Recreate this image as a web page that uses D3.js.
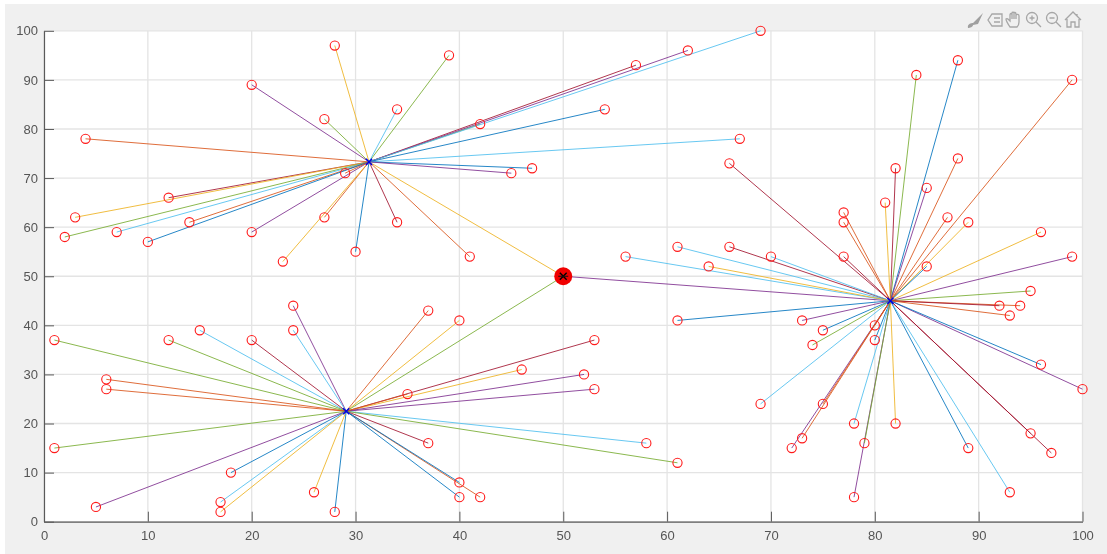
<!DOCTYPE html>
<html><head><meta charset="utf-8">
<script src="https://cdn.jsdelivr.net/npm/d3@7/dist/d3.min.js"></script>
<style>
html,body{margin:0;padding:0;background:#fff;overflow:hidden}
svg{display:block;filter:blur(0.45px)}
text{font-family:"Liberation Sans",Arial,sans-serif}
</style></head><body>
<svg id="c" width="1107" height="554"></svg>
<script>
const xTicks=[0,10,20,30,40,50,60,70,80,90,100];
const yTicks=[0,10,20,30,40,50,60,70,80,90,100];
const centerNames=["A","B","C"];
const centerX=[31.3,29.1,81.5];
const centerY=[73.3,22.5,45];
const colorNames=["blue","orange","yellow","purple","green","cyan","crimson"];
const colorValues=["#0072BD","#D95319","#EDB120","#7E2F8E","#77AC30","#4DBEEE","#A2142F"];
const clusterAPoints=[[28,97,"yellow"],[39,95,"green"],[20,89,"purple"],[34,84,"cyan"],[27,82,"green"],[42,81,"green"],[57,93,"crimson"],[62,96,"purple"],[69,100,"cyan"],[54,84,"blue"],[67,78,"cyan"],[47,72,"blue"],[45,71,"purple"],[4,78,"orange"],[12,66,"crimson"],[3,62,"yellow"],[2,58,"green"],[7,59,"cyan"],[14,61,"orange"],[10,57,"blue"],[20,59,"purple"],[29,71,"orange"],[27,62,"orange"],[23,53,"yellow"],[30,55,"blue"],[34,61,"crimson"],[41,54,"orange"],[50,50,"yellow"]];
const clusterBPoints=[[24,44,"purple"],[37,43,"orange"],[40,41,"yellow"],[50,50,"green"],[15,39,"cyan"],[24,39,"cyan"],[1,37,"green"],[12,37,"green"],[20,37,"crimson"],[53,37,"crimson"],[6,29,"orange"],[6,27,"orange"],[46,31,"yellow"],[52,30,"purple"],[53,27,"purple"],[35,26,"orange"],[1,15,"green"],[58,16,"cyan"],[61,12,"green"],[37,16,"crimson"],[18,10,"blue"],[5,3,"purple"],[17,4,"cyan"],[17,2,"yellow"],[26,6,"yellow"],[28,2,"blue"],[42,5,"orange"],[40,8,"blue"],[40,5,"blue"]];
const clusterCPoints=[[50,50,"purple"],[84,91,"green"],[88,94,"blue"],[99,90,"orange"],[66,73,"crimson"],[88,74,"orange"],[82,72,"crimson"],[85,68,"purple"],[81,65,"yellow"],[77,63,"orange"],[77,61,"orange"],[87,62,"orange"],[89,61,"yellow"],[96,59,"yellow"],[61,56,"cyan"],[66,56,"crimson"],[56,54,"cyan"],[70,54,"cyan"],[77,54,"crimson"],[99,54,"purple"],[64,52,"yellow"],[85,52,"blue"],[95,47,"green"],[94,44,"orange"],[92,44,"crimson"],[93,42,"orange"],[61,41,"blue"],[73,41,"purple"],[75,39,"blue"],[74,36,"green"],[80,40,"orange"],[80,37,"blue"],[69,24,"cyan"],[72,15,"purple"],[75,24,"orange"],[73,17,"orange"],[78,20,"cyan"],[82,20,"yellow"],[78,5,"purple"],[79,16,"green"],[89,15,"blue"],[93,6,"cyan"],[95,18,"crimson"],[97,14,"crimson"],[100,27,"purple"],[96,32,"blue"]];
const clusters=[clusterAPoints,clusterBPoints,clusterCPoints];
const hubPoint=[50,50];

const svg=d3.select("#c");
const plot={l:44,r:1082.5,t:30.8,b:521.7};
const x=d3.scaleLinear().domain([0,100]).range([plot.l,plot.r]);
const y=d3.scaleLinear().domain([0,100]).range([plot.b,plot.t]);
const color=d3.scaleOrdinal(colorNames,colorValues);

svg.append("rect").attr("x",5).attr("y",4).attr("width",1102).attr("height",550).attr("fill","#f0f0f0");
svg.append("rect").attr("x",plot.l).attr("y",plot.t).attr("width",plot.r-plot.l).attr("height",plot.b-plot.t).attr("fill","#fff");

// grid
const grid=svg.append("g").attr("stroke","#e4e4e4").attr("stroke-width",1.3);
grid.selectAll("line.v").data(xTicks).join("line").attr("x1",d=>x(d)).attr("x2",d=>x(d)).attr("y1",plot.t).attr("y2",plot.b);
grid.selectAll("line.h").data(yTicks).join("line").attr("y1",d=>y(d)).attr("y2",d=>y(d)).attr("x1",plot.l).attr("x2",plot.r);

// spokes
const spokes=svg.append("g").attr("fill","none").attr("stroke-width",1).attr("stroke-opacity",0.85);
clusters.forEach((pts,i)=>{
  spokes.selectAll(null).data(pts).join("line")
    .attr("x1",x(centerX[i])).attr("y1",y(centerY[i]))
    .attr("x2",d=>x(d[0])).attr("y2",d=>y(d[1]))
    .attr("stroke",d=>color(d[2]));
});

// points
const circles=svg.append("g").attr("fill","none").attr("stroke","#ff1a1a").attr("stroke-width",1.1);
clusters.forEach(pts=>{
  circles.selectAll(null).data(pts).join("circle")
    .attr("cx",d=>x(d[0])).attr("cy",d=>y(d[1])).attr("r",4.6);
});

// hub
svg.append("circle").attr("cx",x(hubPoint[0])).attr("cy",y(hubPoint[1])).attr("r",9).attr("fill","#f00000");
const hx=svg.append("g").attr("transform",`translate(${x(hubPoint[0])},${y(hubPoint[1])})`).attr("stroke","#000").attr("stroke-width",1.4);
hx.append("path").attr("d",d3.symbol(d3.symbolX,32)()).attr("fill","none");
hx.append("path").attr("d","M-5,0H5").attr("stroke","#111").attr("stroke-width",1);

// centers
centerNames.forEach((n,i)=>{
  const g=svg.append("g").attr("transform",`translate(${x(centerX[i])},${y(centerY[i])})`).attr("stroke","#0000e0").attr("stroke-width",1.5);
  g.append("path").attr("d",d3.symbol(d3.symbolX,26)()).attr("fill","none");
});

// axes
const axCol="#5a5a5a";
const gx=svg.append("g").attr("transform",`translate(0,${plot.b})`).call(d3.axisBottom(x).tickValues(xTicks).tickSize(-10).tickPadding(9).tickSizeOuter(0));
const gy=svg.append("g").attr("transform",`translate(${plot.l},0)`).call(d3.axisLeft(y).tickValues(yTicks).tickSize(-10).tickPadding(6).tickSizeOuter(0));
[gx,gy].forEach(g=>{
  g.selectAll("path.domain").attr("stroke",axCol).attr("stroke-width",1.2);
  g.selectAll("line").attr("stroke",axCol).attr("stroke-width",1);
  g.selectAll("text").attr("fill","#555").style("font-size","13px").style("font-family",'"Liberation Sans",Arial,sans-serif');
});
gx.selectAll("text").attr("y",9).attr("dy","0.71em");

// toolbar icons
const tb=svg.append("g").attr("fill","none").attr("stroke","#a6a6a6").attr("stroke-width",1.3);
const icon=(px,py)=>tb.append("g").attr("transform",`translate(${px},${py})`);
let b=icon(975,20);
b.append("path").attr("d","M-7,8C-8,4 -4,3 -2,3L8,-7L3,4L-2,5C-2,7 -5,8 -7,8Z").attr("fill","#a0a0a0").attr("stroke","none");
b=icon(995,20);
b.append("path").attr("d","M-3,-6H7V6H-3L-7,0Z M-1,-2H5 M-1,2H5");
b=icon(1014,20);
b.append("path").attr("d","M-4,7C-6,4 -8,1 -8,-1C-7,-2 -6,-1 -4,1V-5C-4,-7 -2,-7 -2,-5V-7C-2,-8 0,-8 0,-7V-7C0,-8 2,-8 2,-6V-5C3,-6 5,-6 5,-4V2C5,4 4,6 3,7Z M-2,-5V-1 M0,-7V-1 M2,-6V-1");
b=icon(1033,19);
b.append("circle").attr("r",5.5).attr("cx",-1).attr("cy",-1);
b.append("path").attr("d","M3,3L8,8 M-3.5,-1H1.5 M-1,-3.5V1.5");
b=icon(1053,19);
b.append("circle").attr("r",5.5).attr("cx",-1).attr("cy",-1);
b.append("path").attr("d","M3,3L8,8 M-3.5,-1H1.5");
b=icon(1073,20);
b.append("path").attr("d","M-8,0L0,-8L8,0 M-6,-1V7H-2V2H2V7H6V-1 M4,-6V-3");
</script>
</body></html>
